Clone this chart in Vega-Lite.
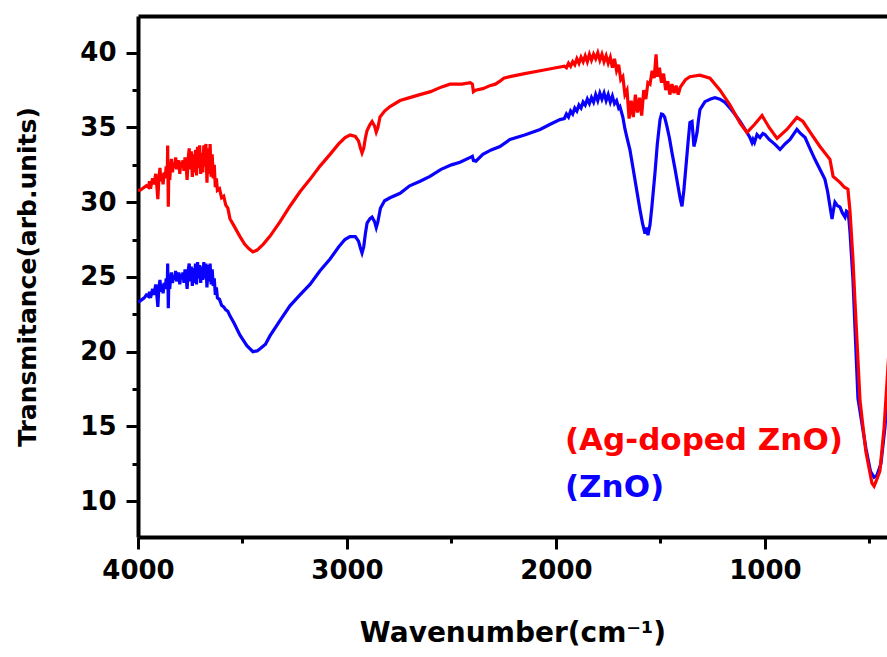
{
  "$schema": "https://vega.github.io/schema/vega-lite/v6.json",
  "autosize": {"type": "none"},
  "padding": {"left": 138, "top": 16, "right": 0, "bottom": 120},
  "width": 749,
  "height": 521,
  "background": "white",
  "config": {
    "view": {"stroke": null},
    "font": "DejaVu Sans",
    "axis": {"grid": false, "domainColor": "black", "tickColor": "black", "labelColor": "black", "titleColor": "black"}
  },
  "datasets": {
    "red": [
      {"wn":4000,"T":30.8},{"wn":3990,"T":30.8},{"wn":3980,"T":30.9},{"wn":3970,"T":31.0},{"wn":3960,"T":31.1},{"wn":3950,"T":31.0},{"wn":3945,"T":31.4},{"wn":3940,"T":30.9},{"wn":3935,"T":31.3},{"wn":3930,"T":31.6},{"wn":3925,"T":31.2},{"wn":3920,"T":31.5},{"wn":3915,"T":31.9},{"wn":3910,"T":31.1},{"wn":3905,"T":30.2},{"wn":3900,"T":31.6},{"wn":3895,"T":32.3},{"wn":3890,"T":31.4},{"wn":3885,"T":31.9},{"wn":3880,"T":31.2},{"wn":3875,"T":32.0},{"wn":3870,"T":31.6},{"wn":3865,"T":32.4},{"wn":3860,"T":31.8},{"wn":3858,"T":33.8},{"wn":3855,"T":29.7},{"wn":3852,"T":32.6},{"wn":3848,"T":31.5},{"wn":3845,"T":32.2},{"wn":3840,"T":32.9},{"wn":3835,"T":32.0},{"wn":3830,"T":32.6},{"wn":3825,"T":32.3},{"wn":3820,"T":33.0},{"wn":3815,"T":32.2},{"wn":3810,"T":32.6},{"wn":3805,"T":32.8},{"wn":3800,"T":31.9},{"wn":3795,"T":32.7},{"wn":3790,"T":32.4},{"wn":3785,"T":32.8},{"wn":3780,"T":32.1},{"wn":3775,"T":33.0},{"wn":3770,"T":32.5},{"wn":3765,"T":31.5},{"wn":3760,"T":32.9},{"wn":3755,"T":33.6},{"wn":3750,"T":32.2},{"wn":3745,"T":33.4},{"wn":3740,"T":31.7},{"wn":3735,"T":33.2},{"wn":3730,"T":32.0},{"wn":3725,"T":33.5},{"wn":3720,"T":31.8},{"wn":3715,"T":33.7},{"wn":3710,"T":32.3},{"wn":3705,"T":33.8},{"wn":3700,"T":31.9},{"wn":3695,"T":33.3},{"wn":3690,"T":32.0},{"wn":3685,"T":33.8},{"wn":3680,"T":32.4},{"wn":3675,"T":33.9},{"wn":3670,"T":31.3},{"wn":3665,"T":33.6},{"wn":3660,"T":31.9},{"wn":3655,"T":33.9},{"wn":3650,"T":31.7},{"wn":3645,"T":33.2},{"wn":3640,"T":31.6},{"wn":3635,"T":32.5},{"wn":3630,"T":31.0},{"wn":3625,"T":31.6},{"wn":3620,"T":30.8},{"wn":3610,"T":30.9},{"wn":3600,"T":30.3},{"wn":3590,"T":30.4},{"wn":3580,"T":29.8},{"wn":3570,"T":29.6},{"wn":3560,"T":28.9},{"wn":3540,"T":28.4},{"wn":3512,"T":27.7},{"wn":3490,"T":27.2},{"wn":3470,"T":26.9},{"wn":3450,"T":26.67},{"wn":3430,"T":26.8},{"wn":3400,"T":27.2},{"wn":3368,"T":27.73},{"wn":3320,"T":28.7},{"wn":3273,"T":29.73},{"wn":3225,"T":30.7},{"wn":3177,"T":31.53},{"wn":3130,"T":32.4},{"wn":3081,"T":33.2},{"wn":3040,"T":33.9},{"wn":3009,"T":34.33},{"wn":2985,"T":34.5},{"wn":2960,"T":34.4},{"wn":2945,"T":34.1},{"wn":2935,"T":33.6},{"wn":2928,"T":33.3},{"wn":2920,"T":33.6},{"wn":2912,"T":34.3},{"wn":2904,"T":34.8},{"wn":2890,"T":35.2},{"wn":2880,"T":35.4},{"wn":2868,"T":35.1},{"wn":2860,"T":34.7},{"wn":2852,"T":35.0},{"wn":2842,"T":35.7},{"wn":2820,"T":36.1},{"wn":2794,"T":36.4},{"wn":2746,"T":36.8},{"wn":2700,"T":37.0},{"wn":2651,"T":37.2},{"wn":2600,"T":37.4},{"wn":2550,"T":37.7},{"wn":2507,"T":37.9},{"wn":2450,"T":37.9},{"wn":2410,"T":38.0},{"wn":2400,"T":37.9},{"wn":2395,"T":37.4},{"wn":2385,"T":37.5},{"wn":2350,"T":37.6},{"wn":2316,"T":37.8},{"wn":2290,"T":37.9},{"wn":2268,"T":38.1},{"wn":2250,"T":38.3},{"wn":2220,"T":38.4},{"wn":2150,"T":38.6},{"wn":2076,"T":38.8},{"wn":2000,"T":39.0},{"wn":1960,"T":39.1},
      {"wn":1950,"T":39.0},{"wn":1940,"T":39.3},{"wn":1930,"T":39.1},{"wn":1920,"T":39.4},{"wn":1910,"T":39.2},{"wn":1900,"T":39.6},{"wn":1890,"T":39.3},{"wn":1880,"T":39.7},{"wn":1870,"T":39.4},{"wn":1860,"T":39.8},{"wn":1850,"T":39.4},{"wn":1840,"T":39.9},{"wn":1830,"T":39.5},{"wn":1820,"T":39.9},{"wn":1810,"T":39.6},{"wn":1800,"T":40.0},{"wn":1790,"T":39.5},{"wn":1780,"T":39.9},{"wn":1770,"T":39.4},{"wn":1760,"T":39.8},{"wn":1750,"T":39.3},{"wn":1740,"T":39.7},{"wn":1730,"T":39.0},{"wn":1720,"T":39.6},{"wn":1710,"T":38.8},{"wn":1700,"T":39.2},{"wn":1690,"T":38.2},{"wn":1680,"T":38.4},{"wn":1670,"T":37.2},{"wn":1660,"T":37.5},{"wn":1650,"T":35.6},{"wn":1640,"T":36.8},{"wn":1630,"T":35.7},{"wn":1620,"T":37.2},{"wn":1610,"T":36.0},{"wn":1600,"T":37.0},{"wn":1590,"T":35.8},{"wn":1580,"T":37.5},{"wn":1570,"T":36.9},{"wn":1560,"T":38.0},{"wn":1550,"T":37.9},{"wn":1540,"T":38.8},{"wn":1530,"T":38.3},{"wn":1521,"T":39.9},{"wn":1515,"T":38.4},{"wn":1505,"T":39.0},{"wn":1495,"T":38.0},{"wn":1485,"T":38.6},{"wn":1475,"T":37.5},{"wn":1465,"T":38.1},{"wn":1455,"T":37.2},{"wn":1445,"T":37.9},{"wn":1435,"T":37.3},{"wn":1425,"T":37.8},{"wn":1415,"T":37.2},{"wn":1405,"T":37.7},{"wn":1395,"T":37.9},{"wn":1380,"T":38.2},{"wn":1359,"T":38.4},{"wn":1311,"T":38.5},{"wn":1263,"T":38.3},{"wn":1215,"T":37.5},{"wn":1167,"T":36.5},{"wn":1119,"T":35.3},{"wn":1086,"T":34.67},{"wn":1050,"T":35.2},{"wn":1014,"T":35.8},{"wn":980,"T":35.0},{"wn":942,"T":34.27},{"wn":895,"T":34.87},{"wn":847,"T":35.67},{"wn":818,"T":35.4},{"wn":780,"T":34.6},{"wn":737,"T":33.73},{"wn":689,"T":32.87},{"wn":674,"T":31.73},{"wn":641,"T":31.33},{"wn":620,"T":31.0},{"wn":603,"T":30.87},{"wn":593,"T":29.4},{"wn":579,"T":26.2},{"wn":569,"T":23.3},{"wn":545,"T":16.7},{"wn":517,"T":13.3},{"wn":488,"T":11.2},{"wn":478,"T":11.0},{"wn":469,"T":11.3},{"wn":450,"T":12.0},{"wn":430,"T":14.9},{"wn":400,"T":21.5}
    ],
    "blue": [
      {"wn":4000,"T":23.3},{"wn":3990,"T":23.4},{"wn":3980,"T":23.5},{"wn":3970,"T":23.6},{"wn":3960,"T":23.8},{"wn":3950,"T":23.7},{"wn":3945,"T":24.0},{"wn":3940,"T":23.6},{"wn":3935,"T":23.9},{"wn":3930,"T":24.2},{"wn":3925,"T":23.8},{"wn":3920,"T":24.1},{"wn":3915,"T":24.5},{"wn":3910,"T":23.8},{"wn":3905,"T":23.0},{"wn":3900,"T":24.3},{"wn":3895,"T":24.8},{"wn":3890,"T":24.0},{"wn":3885,"T":24.5},{"wn":3880,"T":23.9},{"wn":3875,"T":24.6},{"wn":3870,"T":24.2},{"wn":3865,"T":24.9},{"wn":3860,"T":24.4},{"wn":3858,"T":25.9},{"wn":3855,"T":22.9},{"wn":3852,"T":25.0},{"wn":3848,"T":24.2},{"wn":3845,"T":24.8},{"wn":3840,"T":25.3},{"wn":3835,"T":24.6},{"wn":3830,"T":25.1},{"wn":3825,"T":24.8},{"wn":3820,"T":25.4},{"wn":3815,"T":24.7},{"wn":3810,"T":25.1},{"wn":3805,"T":25.3},{"wn":3800,"T":24.5},{"wn":3795,"T":25.2},{"wn":3790,"T":24.9},{"wn":3785,"T":25.3},{"wn":3780,"T":24.6},{"wn":3775,"T":25.5},{"wn":3770,"T":25.0},{"wn":3765,"T":24.2},{"wn":3760,"T":25.4},{"wn":3755,"T":25.9},{"wn":3750,"T":24.7},{"wn":3745,"T":25.7},{"wn":3740,"T":24.4},{"wn":3735,"T":25.6},{"wn":3730,"T":24.6},{"wn":3725,"T":25.9},{"wn":3720,"T":24.5},{"wn":3715,"T":26.0},{"wn":3710,"T":24.9},{"wn":3705,"T":25.8},{"wn":3700,"T":24.6},{"wn":3695,"T":25.7},{"wn":3690,"T":24.8},{"wn":3685,"T":26.0},{"wn":3680,"T":24.9},{"wn":3675,"T":25.9},{"wn":3670,"T":24.3},{"wn":3665,"T":25.8},{"wn":3660,"T":24.7},{"wn":3655,"T":25.9},{"wn":3650,"T":24.5},{"wn":3645,"T":25.5},{"wn":3640,"T":24.4},{"wn":3635,"T":24.9},{"wn":3630,"T":23.8},{"wn":3625,"T":24.3},{"wn":3620,"T":23.6},{"wn":3610,"T":23.5},{"wn":3600,"T":23.1},{"wn":3590,"T":23.0},{"wn":3580,"T":22.8},{"wn":3570,"T":22.7},{"wn":3560,"T":22.4},{"wn":3540,"T":21.9},{"wn":3512,"T":21.1},{"wn":3479,"T":20.4},{"wn":3450,"T":20.0},{"wn":3430,"T":20.05},{"wn":3416,"T":20.2},{"wn":3390,"T":20.5},{"wn":3368,"T":21.07},{"wn":3320,"T":22.1},{"wn":3273,"T":23.07},{"wn":3225,"T":23.8},{"wn":3177,"T":24.5},{"wn":3130,"T":25.4},{"wn":3081,"T":26.2},{"wn":3040,"T":27.0},{"wn":3010,"T":27.5},{"wn":2986,"T":27.7},{"wn":2960,"T":27.7},{"wn":2945,"T":27.4},{"wn":2935,"T":26.9},{"wn":2928,"T":26.6},{"wn":2920,"T":27.0},{"wn":2912,"T":27.9},{"wn":2904,"T":28.6},{"wn":2890,"T":28.9},{"wn":2880,"T":29.0},{"wn":2868,"T":28.7},{"wn":2860,"T":28.3},{"wn":2852,"T":28.7},{"wn":2840,"T":29.6},{"wn":2820,"T":30.1},{"wn":2794,"T":30.3},{"wn":2746,"T":30.6},{"wn":2700,"T":31.1},{"wn":2650,"T":31.4},{"wn":2603,"T":31.73},{"wn":2550,"T":32.2},{"wn":2500,"T":32.5},{"wn":2459,"T":32.67},{"wn":2410,"T":33.0},{"wn":2400,"T":33.07},{"wn":2395,"T":32.8},{"wn":2383,"T":32.75},{"wn":2350,"T":33.2},{"wn":2310,"T":33.5},{"wn":2268,"T":33.73},{"wn":2220,"T":34.2},{"wn":2150,"T":34.5},{"wn":2076,"T":34.87},{"wn":2030,"T":35.2},{"wn":1981,"T":35.53},
      {"wn":1960,"T":35.6},{"wn":1950,"T":35.9},{"wn":1940,"T":35.7},{"wn":1930,"T":36.1},{"wn":1920,"T":35.9},{"wn":1910,"T":36.3},{"wn":1900,"T":36.1},{"wn":1890,"T":36.5},{"wn":1880,"T":36.3},{"wn":1870,"T":36.7},{"wn":1860,"T":36.5},{"wn":1850,"T":36.9},{"wn":1840,"T":36.6},{"wn":1830,"T":37.0},{"wn":1820,"T":36.7},{"wn":1810,"T":37.2},{"wn":1800,"T":36.8},{"wn":1790,"T":37.3},{"wn":1780,"T":36.9},{"wn":1770,"T":37.3},{"wn":1760,"T":36.8},{"wn":1750,"T":37.2},{"wn":1740,"T":36.7},{"wn":1730,"T":37.1},{"wn":1720,"T":36.6},{"wn":1710,"T":36.8},{"wn":1700,"T":36.3},{"wn":1694,"T":36.4},{"wn":1680,"T":35.7},{"wn":1670,"T":34.9},{"wn":1660,"T":34.3},{"wn":1646,"T":33.5},{"wn":1634,"T":32.5},{"wn":1622,"T":31.5},{"wn":1610,"T":30.5},{"wn":1598,"T":29.5},{"wn":1586,"T":28.6},{"wn":1574,"T":27.9},{"wn":1567,"T":28.3},{"wn":1560,"T":27.8},{"wn":1550,"T":28.5},{"wn":1541,"T":29.7},{"wn":1526,"T":32.0},{"wn":1515,"T":33.9},{"wn":1502,"T":35.53},{"wn":1495,"T":35.9},{"wn":1488,"T":35.87},{"wn":1480,"T":35.7},{"wn":1469,"T":35.07},{"wn":1457,"T":34.3},{"wn":1445,"T":33.33},{"wn":1430,"T":32.2},{"wn":1416,"T":31.07},{"wn":1405,"T":30.2},{"wn":1397,"T":29.73},{"wn":1388,"T":30.8},{"wn":1378,"T":32.4},{"wn":1368,"T":34.0},{"wn":1359,"T":35.33},{"wn":1349,"T":35.4},{"wn":1344,"T":34.5},{"wn":1340,"T":33.73},{"wn":1333,"T":34.1},{"wn":1325,"T":34.67},{"wn":1318,"T":35.5},{"wn":1311,"T":36.2},{"wn":1287,"T":36.73},{"wn":1260,"T":36.9},{"wn":1239,"T":37.0},{"wn":1215,"T":36.9},{"wn":1191,"T":36.67},{"wn":1167,"T":36.3},{"wn":1143,"T":35.87},{"wn":1119,"T":35.4},{"wn":1096,"T":34.9},{"wn":1072,"T":34.33},{"wn":1062,"T":34.0},{"wn":1057,"T":34.2},{"wn":1050,"T":34.0},{"wn":1038,"T":34.53},{"wn":1024,"T":34.33},{"wn":1010,"T":34.6},{"wn":1000,"T":34.53},{"wn":980,"T":34.2},{"wn":952,"T":33.87},{"wn":928,"T":33.53},{"wn":904,"T":33.9},{"wn":880,"T":34.2},{"wn":847,"T":34.87},{"wn":830,"T":34.6},{"wn":808,"T":34.33},{"wn":785,"T":33.6},{"wn":761,"T":32.87},{"wn":737,"T":32.2},{"wn":713,"T":31.53},{"wn":700,"T":30.7},{"wn":689,"T":29.73},{"wn":679,"T":28.87},{"wn":672,"T":29.5},{"wn":665,"T":30.0},{"wn":655,"T":29.8},{"wn":641,"T":29.67},{"wn":630,"T":29.3},{"wn":617,"T":29.0},{"wn":610,"T":29.4},{"wn":603,"T":29.33},{"wn":598,"T":28.8},{"wn":593,"T":28.0},{"wn":585,"T":26.2},{"wn":579,"T":24.87},{"wn":555,"T":16.87},{"wn":517,"T":13.53},{"wn":495,"T":12.0},{"wn":478,"T":11.6},{"wn":464,"T":11.73},{"wn":445,"T":12.5},{"wn":426,"T":14.9},{"wn":400,"T":19.5}
    ],
    "labels": [
      {"label": "(Ag-doped ZnO)", "wn": 1957, "T": 14.0, "c": "red"},
      {"label": "(ZnO)", "wn": 1957, "T": 10.87, "c": "blue"}
    ]
  },
  "resolve": {"axis": {"x": "independent"}},
  "layer": [
    {
      "data": {"name": "blue"},
      "mark": {"type": "line", "color": "#0a00ff", "strokeWidth": 3.2, "clip": true},
      "encoding": {
        "x": {
          "field": "wn", "type": "quantitative",
          "scale": {"domain": [4000, 416], "nice": false, "zero": false},
          "axis": {
            "orient": "bottom",
            "values": [4000, 3500, 3000, 2500, 2000, 1500, 1000, 500],
            "labelExpr": "datum.value % 1000 === 0 ? format(datum.value, 'd') : ''",
            "labelFlush": false, "labelOverlap": false,
            "domainWidth": 4, "tickWidth": 3,
            "tickSize": {"condition": {"test": "datum.value % 1000 === 0", "value": 12}, "value": 6},
            "labelFont": "DejaVu Sans", "labelFontWeight": "bold", "labelFontSize": 26, "labelPadding": 8,
            "title": "Wavenumber(cm⁻¹)", "titleFont": "DejaVu Sans", "titleFontWeight": "bold", "titleFontSize": 28, "titlePadding": 36
          }
        },
        "y": {
          "field": "T", "type": "quantitative",
          "scale": {"domain": [7.6, 42.46], "nice": false, "zero": false},
          "axis": {
            "values": [10, 12.5, 15, 17.5, 20, 22.5, 25, 27.5, 30, 32.5, 35, 37.5, 40],
            "labelExpr": "datum.value % 5 === 0 ? format(datum.value, 'd') : ''",
            "labelOverlap": false,
            "domainWidth": 4, "tickWidth": 3,
            "tickSize": {"condition": {"test": "datum.value % 5 === 0", "value": 12}, "value": 6},
            "labelFont": "DejaVu Sans", "labelFontWeight": "bold", "labelFontSize": 26, "labelPadding": 10,
            "title": "Transmitance(arb.units)", "titleFont": "DejaVu Sans", "titleFontWeight": "bold", "titleFontSize": 25, "titlePadding": 39
          }
        }
      }
    },
    {
      "data": {"name": "red"},
      "mark": {"type": "line", "color": "#ff0000", "strokeWidth": 3.2, "clip": true},
      "encoding": {
        "x": {"field": "wn", "type": "quantitative", "axis": null},
        "y": {"field": "T", "type": "quantitative"}
      }
    },
    {
      "data": {"name": "labels"},
      "mark": {"type": "text", "align": "left", "baseline": "middle", "font": "DejaVu Sans", "fontWeight": "bold", "fontSize": 31},
      "encoding": {
        "x": {"field": "wn", "type": "quantitative",
          "axis": {"orient": "top", "labels": false, "ticks": false, "title": null, "domainWidth": 4, "domainColor": "black"}},
        "y": {"field": "T", "type": "quantitative"},
        "text": {"field": "label"},
        "color": {"field": "c", "type": "nominal", "scale": {"domain": ["red", "blue"], "range": ["#ff0000", "#0a00ff"]}, "legend": null}
      }
    }
  ]
}
